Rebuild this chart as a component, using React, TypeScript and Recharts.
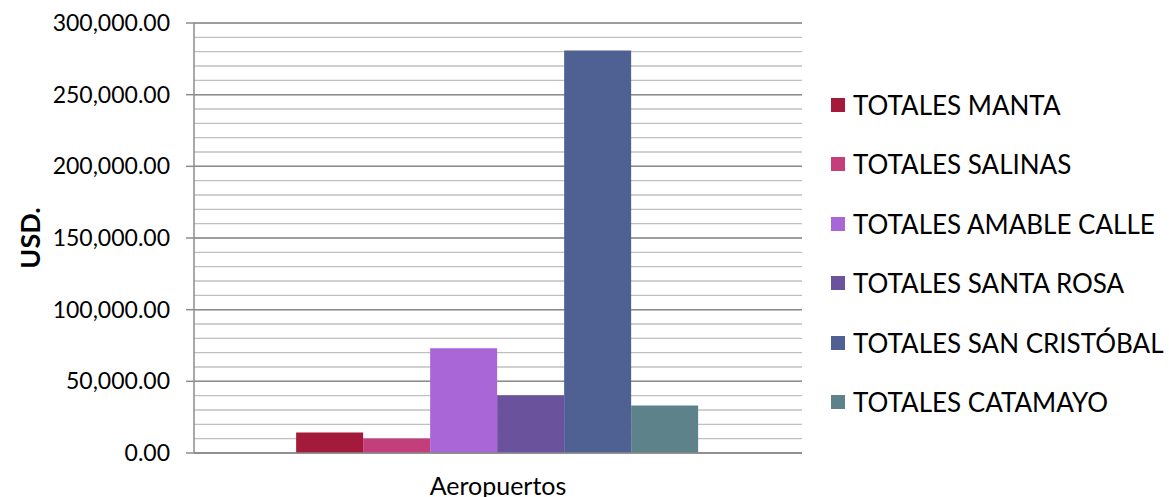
import { BarChart, Bar, XAxis, YAxis, CartesianGrid, Legend } from 'recharts';

const categories = ['Aeropuertos'];
const seriesNames = [
  'TOTALES MANTA',
  'TOTALES SALINAS',
  'TOTALES AMABLE CALLE',
  'TOTALES SANTA ROSA',
  'TOTALES SAN CRISTÓBAL',
  'TOTALES CATAMAYO',
];
const seriesValues = [14340, 10140, 73080, 40210, 280770, 33220];
const seriesColors = ['#A31A3A', '#C43E7B', '#A866D6', '#6B529C', '#4F6193', '#5D828A'];
const majorTicks = [0, 50000, 100000, 150000, 200000, 250000, 300000];
const minorTicks = Array.from({ length: 31 }, (_, i) => i * 10000);

const data = categories.map((name) => {
  const row: Record<string, string | number> = { name };
  seriesNames.forEach((s, i) => { row[s] = seriesValues[i]; });
  return row;
});

const font = 'Lato, "Open Sans", sans-serif';
const fmt = (v: number) => v.toLocaleString('en-US', { minimumFractionDigits: 2, maximumFractionDigits: 2 });

function LegendBox({ payload }: any) {
  const items = [...(payload || [])].sort(
    (a: any, b: any) => seriesNames.indexOf(a.value) - seriesNames.indexOf(b.value),
  );
  return (
    <div style={{ fontFamily: font, fontSize: 26, color: '#000', whiteSpace: 'nowrap' }}>
      {items.map((p: any) => (
        <div key={p.value} style={{ display: 'flex', alignItems: 'center', height: 59.5 }}>
          <span style={{ width: 14, height: 14, background: p.color, marginRight: 8, display: 'inline-block' }} />
          <span>{p.value}</span>
        </div>
      ))}
    </div>
  );
}

export default function App() {
  return (
    <div style={{ position: 'absolute', left: 0, top: 0, background: '#fff' }}>
      <BarChart
        width={1169}
        height={497}
        data={data}
        margin={{ top: 23, right: 29, bottom: 0, left: 0 }}
        barCategoryGap="16.8%"
        barGap={0}
      >
        {/* minor lines every 10,000, then the darker major lines on top */}
        <CartesianGrid vertical={false} horizontalValues={minorTicks} stroke="#C0C0C0" strokeWidth={1.4} />
        <CartesianGrid vertical={false} stroke="#8C8C8C" strokeWidth={1.5} />
        <XAxis
          dataKey="name"
          height={44}
          tickLine={false}
          tickMargin={18}
          axisLine={{ stroke: '#8C8C8C', strokeWidth: 1.5 }}
          tick={{ fill: '#000', fontSize: 25, fontFamily: font }}
        />
        <YAxis
          width={194}
          domain={[0, 300000]}
          ticks={majorTicks}
          interval={0}
          tickFormatter={fmt}
          tickSize={8}
          tickMargin={16}
          tickLine={{ stroke: '#8C8C8C', strokeWidth: 1.5 }}
          axisLine={{ stroke: '#8C8C8C', strokeWidth: 1.5 }}
          tick={{ fill: '#000', fontSize: 23, fontFamily: font }}
          label={{
            value: 'USD.',
            angle: -90,
            position: 'insideLeft',
            dx: 25,
            style: { textAnchor: 'middle', fontWeight: 'bold', fontSize: 27, fontFamily: font, fill: '#000' },
          }}
        />
        <Legend
          layout="vertical"
          verticalAlign="top"
          align="right"
          content={<LegendBox />}
          wrapperStyle={{ left: 831, top: 75, width: 338 }}
        />
        {seriesNames.map((s, i) => (
          <Bar key={s} dataKey={s} fill={seriesColors[i]} isAnimationActive={false} />
        ))}
      </BarChart>
    </div>
  );
}
